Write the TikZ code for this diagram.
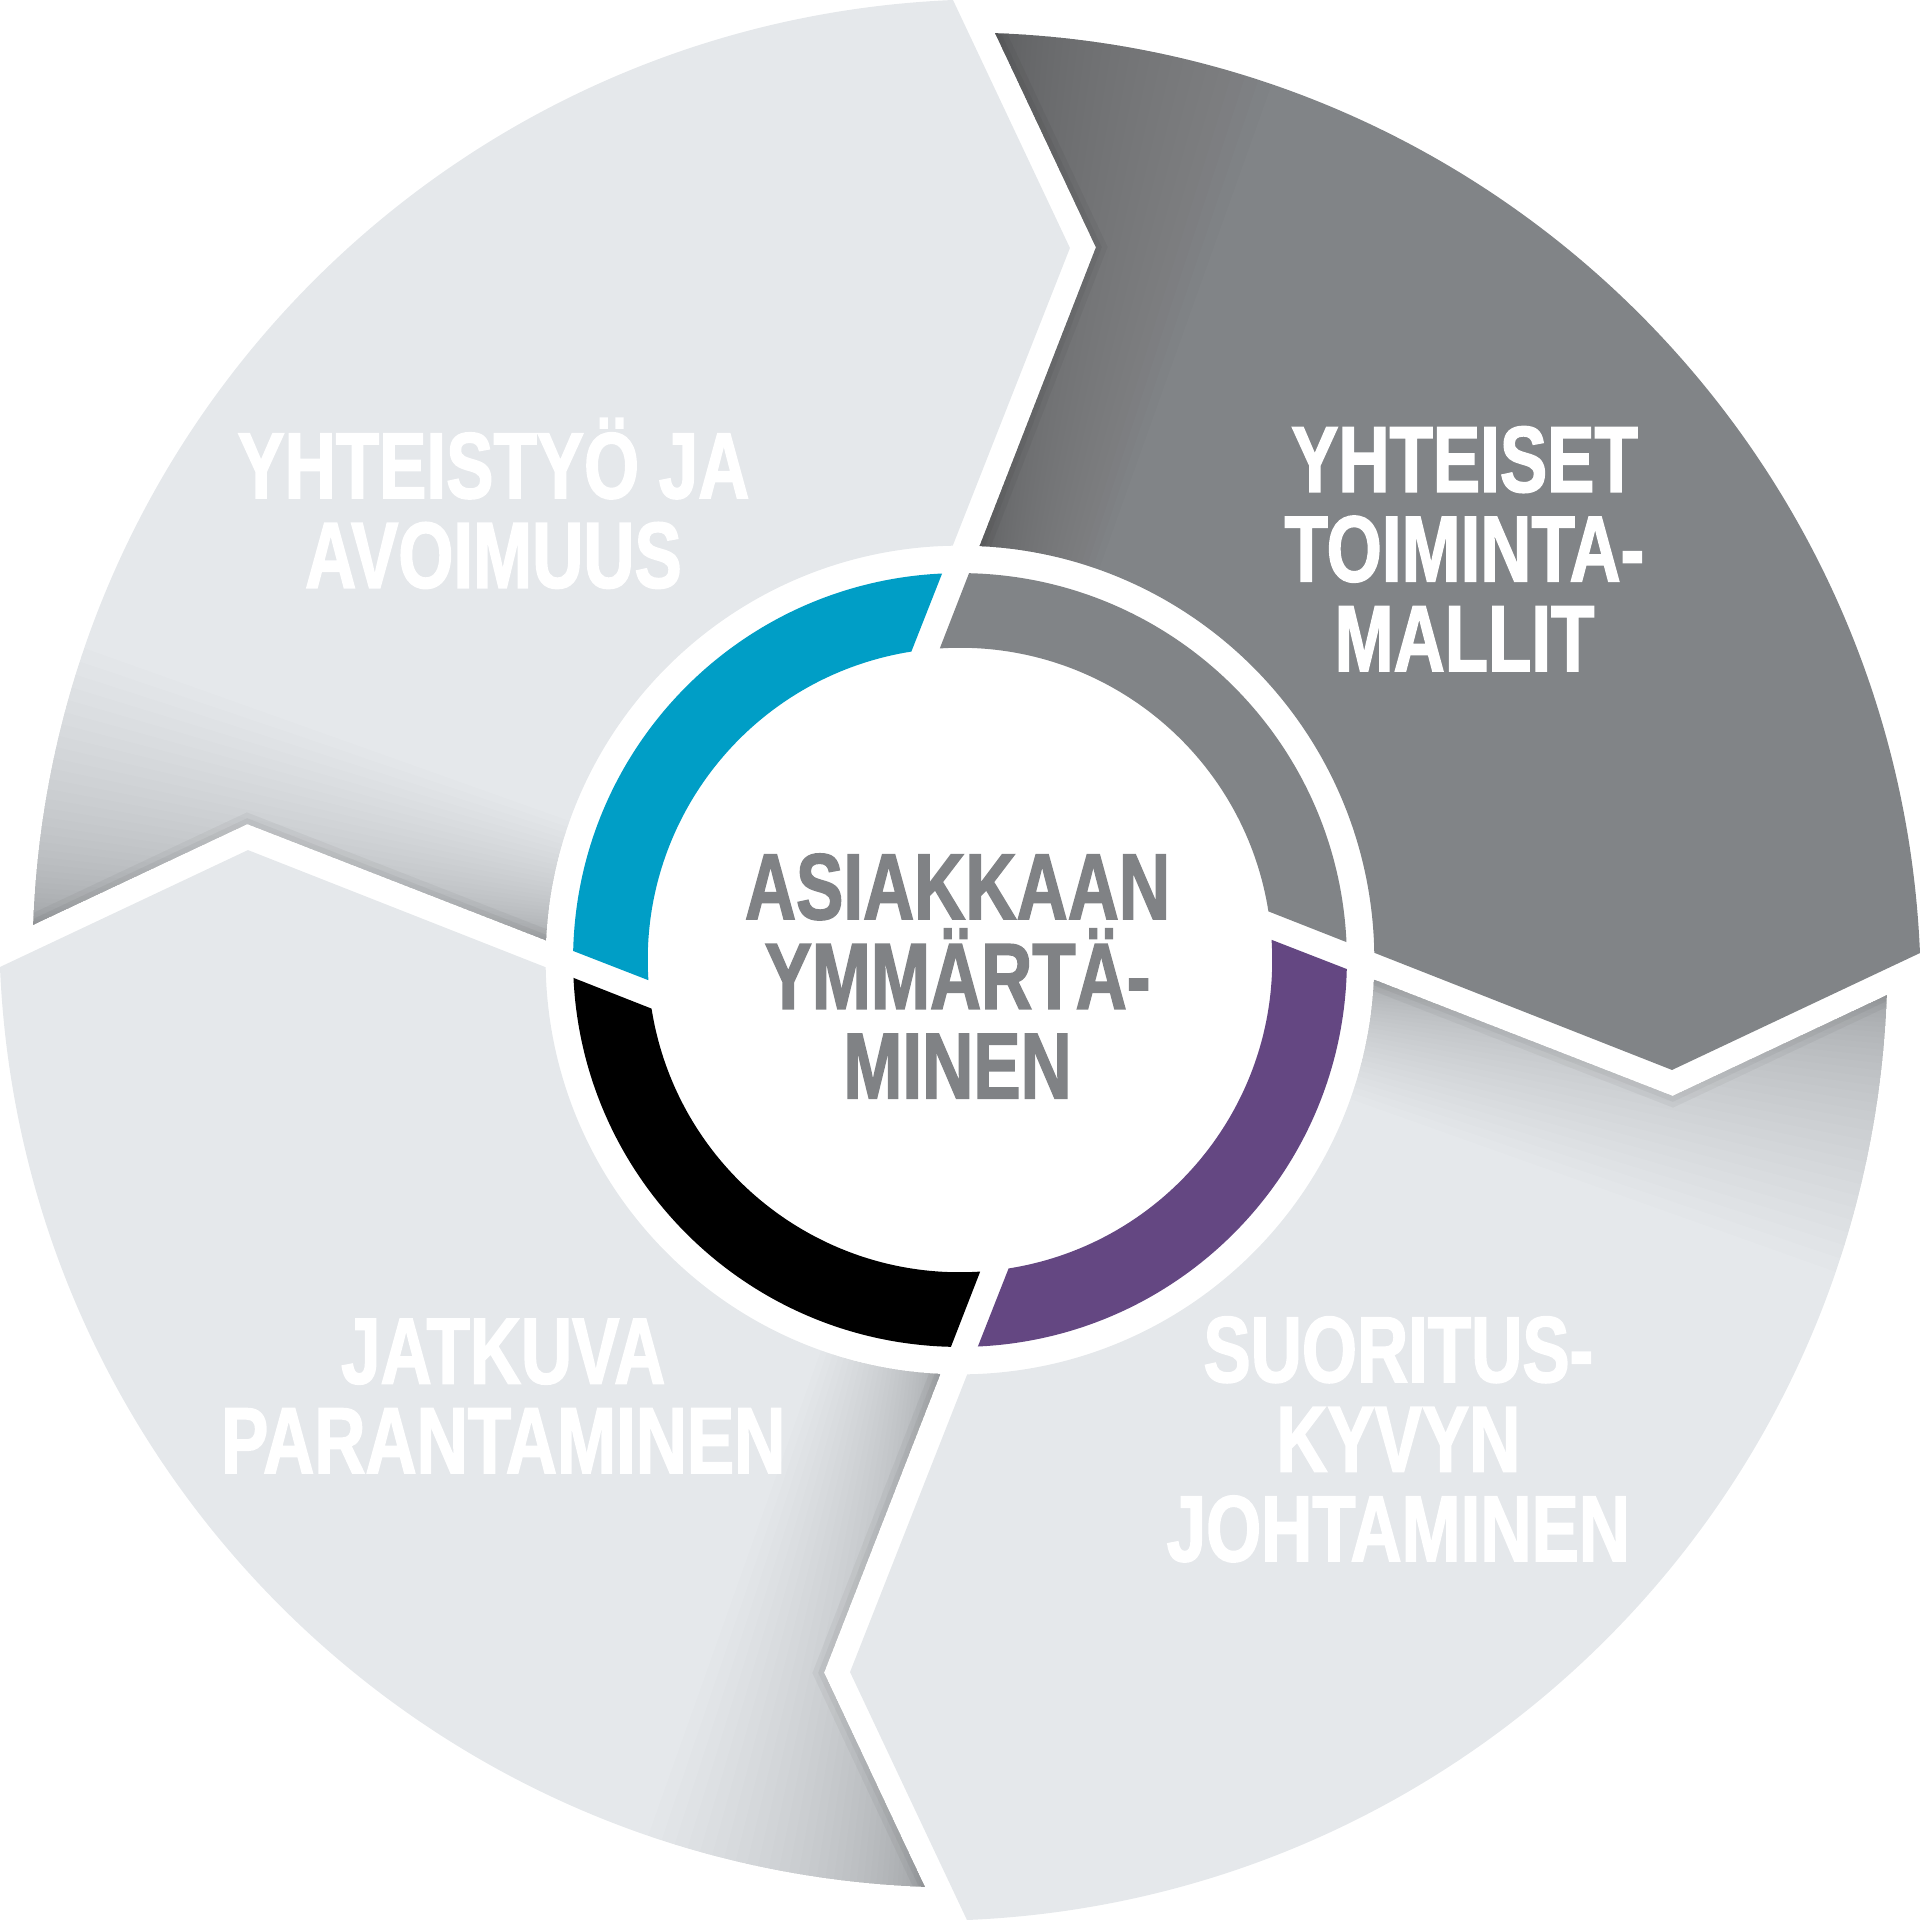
\documentclass[tikz,border=0pt]{standalone}
\usepackage{fontspec}
\setmainfont{Liberation Sans}[FakeStretch=0.755, BoldFeatures={FakeBold=1.6}]
\definecolor{segLight}{HTML}{E5E8EB}
\definecolor{segDark}{HTML}{818487}
\definecolor{ringBlue}{HTML}{009EC6}
\definecolor{ringPurple}{HTML}{644782}
\definecolor{textGray}{HTML}{808285}
% outline of one arrow segment (top right) and of its ring piece
\newcommand{\segmentpath}{(28.6,757) -- (111,582) -- (87.3:338.4) arc[start angle=87.3, end angle=1, radius=338.4] -- (581.5,-89.8) -- (784,5.7) arc[start angle=2.39, end angle=87.91, radius=784.5] -- cycle}
\newcommand{\ringpath}{(88.66:316) arc[start angle=88.66, end angle=2.65, radius=316] -- (8.96:255) arc[start angle=8.96, end angle=93.71, radius=255] -- cycle}
\tikzset{
  label text/.style={text=white, font=\bfseries\fontsize{21.8}{20.8}\selectfont, align=center, inner sep=0pt, anchor=base},
  center text/.style={label text, text=textGray},
}
\begin{document}
\begin{tikzpicture}[x=0.01cm, y=0.01cm]
\useasboundingbox (-784,-784) rectangle (784,784);

% Drawing the four arrow segments with their ring pieces
\foreach \rot/\segcol/\ringcol in {90/segLight/ringBlue, 0/segDark/segDark, -90/segLight/ringPurple, 180/segLight/black}{
  \begin{scope}[rotate=\rot]
    \fill[\segcol] \segmentpath;
    % shadow cast into the notch
    \begin{scope}
      \clip \segmentpath;
      \foreach \k in {1,...,40}
        \fill[black, opacity=0.0065] (0,0) -- (91:900) arc[start angle=91, end angle={88-0.011*\k*\k}, radius=900] -- cycle;
      \draw[black, opacity=0.04, line width=5pt] (28.6,757) -- (111,582) -- (87.3:338.4);
      \draw[black, opacity=0.04, line width=2.5pt] (28.6,757) -- (111,582) -- (87.3:338.4);
    \end{scope}
    \fill[\ringcol] \ringpath;
  \end{scope}
}

% Labels (placed at the baseline of their last line)
\node[label text] (yhteistyo) at (-381,304) {YHTEISTYÖ JA\\AVOIMUUS};
\node[label text] (toimintamallit) at (412,236) {YHTEISET\\TOIMINTA-\\MALLIT};
\node[label text] (suorituskyky) at (358,-491) {SUORITUS-\\KYVYN\\JOHTAMINEN};
\node[label text] (parantaminen) at (-373,-419) {JATKUVA\\PARANTAMINEN};
\node[center text] (asiakas) at (-2,-113) {ASIAKKAAN\\YMMÄRTÄ-\\MINEN};
\end{tikzpicture}
\end{document}
